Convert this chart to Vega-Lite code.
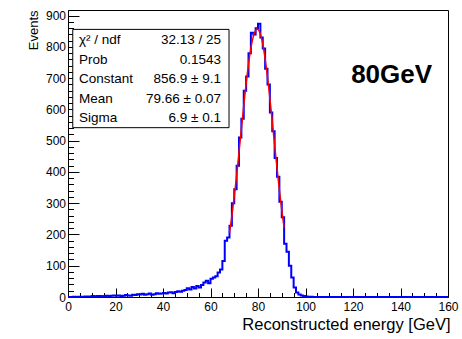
{
  "$schema": "https://vega.github.io/schema/vega-lite/v6.json",
  "width": 380,
  "height": 287,
  "autosize": "none",
  "padding": {"left": 68, "top": 10, "right": 14, "bottom": 42},
  "background": "white",
  "config": {
    "view": {"stroke": "black", "strokeWidth": 1},
    "font": "Liberation Sans",
    "axis": {"grid": false, "tickColor": "black", "domainColor": "black", "labelColor": "black", "titleColor": "black", "labelFont": "Liberation Sans", "titleFont": "Liberation Sans", "titleFontWeight": "normal"}
  },
  "datasets": {
    "hist": [
      {"E":0,"N":0},{"E":1,"N":0},{"E":2,"N":1},{"E":3,"N":0},{"E":4,"N":1},{"E":5,"N":1},{"E":6,"N":1},{"E":7,"N":2},{"E":8,"N":2},{"E":9,"N":2},
      {"E":10,"N":3},{"E":11,"N":2},{"E":12,"N":3},{"E":13,"N":3},{"E":14,"N":2},{"E":15,"N":3},{"E":16,"N":4},{"E":17,"N":3},{"E":18,"N":4},{"E":19,"N":5},
      {"E":20,"N":4},{"E":21,"N":5},{"E":22,"N":3},{"E":23,"N":4},{"E":24,"N":6},{"E":25,"N":5},{"E":26,"N":4},{"E":27,"N":7},{"E":28,"N":6},{"E":29,"N":9},
      {"E":30,"N":8},{"E":31,"N":10},{"E":32,"N":7},{"E":33,"N":9},{"E":34,"N":11},{"E":35,"N":7},{"E":36,"N":9},{"E":37,"N":12},{"E":38,"N":10},{"E":39,"N":11},
      {"E":40,"N":13},{"E":41,"N":11},{"E":42,"N":14},{"E":43,"N":15},{"E":44,"N":12},{"E":45,"N":16},{"E":46,"N":18},{"E":47,"N":17},{"E":48,"N":20},{"E":49,"N":22},
      {"E":50,"N":28},{"E":51,"N":24},{"E":52,"N":32},{"E":53,"N":27},{"E":54,"N":35},{"E":55,"N":30},{"E":56,"N":38},{"E":57,"N":46},{"E":58,"N":52},{"E":59,"N":44},
      {"E":60,"N":58},{"E":61,"N":62},{"E":62,"N":66},{"E":63,"N":78},{"E":64,"N":88},{"E":65,"N":115},{"E":66,"N":180},{"E":67,"N":190},{"E":68,"N":228},{"E":69,"N":300},
      {"E":70,"N":345},{"E":71,"N":420},{"E":72,"N":510},{"E":73,"N":570},{"E":74,"N":660},{"E":75,"N":705},{"E":76,"N":780},{"E":77,"N":845},{"E":78,"N":840},{"E":79,"N":860},
      {"E":80,"N":874},{"E":81,"N":830},{"E":82,"N":795},{"E":83,"N":730},{"E":84,"N":680},{"E":85,"N":590},{"E":86,"N":530},{"E":87,"N":445},{"E":88,"N":385},{"E":89,"N":305},
      {"E":90,"N":255},{"E":91,"N":170},{"E":92,"N":145},{"E":93,"N":100},{"E":94,"N":62},{"E":95,"N":30},{"E":96,"N":14},{"E":97,"N":8},{"E":98,"N":5},{"E":99,"N":3},
      {"E":100,"N":2},{"E":101,"N":1},{"E":102,"N":1},{"E":103,"N":0},{"E":104,"N":0},{"E":105,"N":0},{"E":106,"N":0},{"E":107,"N":0},{"E":108,"N":0},{"E":109,"N":0},
      {"E":110,"N":0},{"E":111,"N":0},{"E":112,"N":0},{"E":113,"N":0},{"E":114,"N":0},{"E":115,"N":0},{"E":116,"N":0},{"E":117,"N":0},{"E":118,"N":0},{"E":119,"N":0},
      {"E":120,"N":0},{"E":121,"N":0},{"E":122,"N":0},{"E":123,"N":0},{"E":124,"N":0},{"E":125,"N":0},{"E":126,"N":0},{"E":127,"N":0},{"E":128,"N":0},{"E":129,"N":0},
      {"E":130,"N":0},{"E":131,"N":0},{"E":132,"N":0},{"E":133,"N":0},{"E":134,"N":0},{"E":135,"N":0},{"E":136,"N":0},{"E":137,"N":0},{"E":138,"N":0},{"E":139,"N":0},
      {"E":140,"N":0},{"E":141,"N":0},{"E":142,"N":0},{"E":143,"N":0},{"E":144,"N":0},{"E":145,"N":0},{"E":146,"N":0},{"E":147,"N":0},{"E":148,"N":0},{"E":149,"N":0},
      {"E":150,"N":0},{"E":151,"N":0},{"E":152,"N":0},{"E":153,"N":0},{"E":154,"N":0},{"E":155,"N":0},{"E":156,"N":0},{"E":157,"N":0},{"E":158,"N":0},{"E":159,"N":0},
      {"E":160,"N":0}
    ],
    "fit": [
      {"E":68,"F":205.5},{"E":68.5,"F":231.7},{"E":69,"F":259.8},{"E":69.5,"F":290},{"E":70,"F":321.6},{"E":70.5,"F":355},
      {"E":71,"F":389.9},{"E":71.5,"F":426},{"E":72,"F":462.8},{"E":72.5,"F":500},{"E":73,"F":537.9},{"E":73.5,"F":575},
      {"E":74,"F":612},{"E":74.5,"F":648},{"E":75,"F":682},{"E":75.5,"F":715},{"E":76,"F":744.6},{"E":76.5,"F":772},
      {"E":77,"F":795.6},{"E":77.5,"F":816},{"E":78,"F":832.6},{"E":78.5,"F":845},{"E":79,"F":853},{"E":79.5,"F":857},
      {"E":80,"F":856},{"E":80.5,"F":851},{"E":81,"F":841},{"E":81.5,"F":827},{"E":82,"F":809},{"E":82.5,"F":787},
      {"E":83,"F":762},{"E":83.5,"F":734},{"E":84,"F":703},{"E":84.5,"F":670},{"E":85,"F":635},{"E":85.5,"F":599},
      {"E":86,"F":562},{"E":86.5,"F":524},{"E":87,"F":487},{"E":87.5,"F":449},{"E":88,"F":413},{"E":88.5,"F":377},
      {"E":89,"F":343},{"E":89.5,"F":310},{"E":90,"F":279},{"E":90.5,"F":249},{"E":91,"F":222}
    ]
  },
  "layer": [
    {
      "data": {"name": "hist"},
      "mark": {"type": "line", "interpolate": "step-after", "color": "#0000ff", "strokeWidth": 2},
      "encoding": {
        "x": {"field": "E", "type": "quantitative", "scale": {"domain": [0, 160], "nice": false, "zero": false},
          "axis": {"orient": "bottom", "values": [0,5,10,15,20,25,30,35,40,45,50,55,60,65,70,75,80,85,90,95,100,105,110,115,120,125,130,135,140,145,150,155,160],
            "tickCount": 500, "format": "d",
            "tickSize": {"condition": {"test": "datum.value % 20 === 0", "value": -9}, "value": -4.5},
            "labelExpr": "datum.value % 20 === 0 ? datum.label : ''",
            "labelOverlap": false, "labelFlush": false, "labelBound": false,
            "labelPadding": 13, "labelFontSize": 12,
            "title": "Reconstructed energy [GeV]", "titleFontSize": 16.5, "titleAnchor": "end", "titleAlign": "right", "titleBaseline": "alphabetic", "titleX": 382, "titleY": 32}},
        "y": {"field": "N", "type": "quantitative", "scale": {"domain": [0, 918], "nice": false},
          "axis": {"orient": "left", "values": [0,20,40,60,80,100,120,140,160,180,200,220,240,260,280,300,320,340,360,380,400,420,440,460,480,500,520,540,560,580,600,620,640,660,680,700,720,740,760,780,800,820,840,860,880,900],
            "tickCount": 500, "format": "d",
            "tickSize": {"condition": {"test": "datum.value % 100 === 0", "value": -11}, "value": -5.5},
            "labelExpr": "datum.value % 100 === 0 ? datum.label : ''",
            "labelOverlap": false, "labelFlush": false, "labelBound": false,
            "labelPadding": 13.5, "labelFontSize": 12,
            "title": "Events", "titleFontSize": 13, "titleAngle": 270, "titleAnchor": "end", "titleAlign": "right", "titleBaseline": "alphabetic", "titleX": -31, "titleY": 0}}
      }
    },
    {
      "data": {"name": "fit"},
      "mark": {"type": "line", "color": "#ff0000", "strokeWidth": 1.5},
      "encoding": {
        "x": {"field": "E", "type": "quantitative"},
        "y": {"field": "F", "type": "quantitative"}
      }
    },
    {
      "data": {"values": [{}]},
      "mark": {"type": "rect", "fill": "white", "stroke": "black", "strokeWidth": 1},
      "encoding": {"x": {"datum": 2.0, "type": "quantitative"}, "x2": {"datum": 67.8}, "y": {"datum": 856, "type": "quantitative"}, "y2": {"datum": 541.6}}
    },
    {
      "data": {"values": [{}]},
      "mark": {"type": "text", "align": "left", "baseline": "alphabetic", "fontSize": 13.5, "lineHeight": 19.5, "color": "black",
        "text": ["χ² / ndf", "Prob", "Constant", "Mean", "Sigma"]},
      "encoding": {"x": {"datum": 4.6, "type": "quantitative"}, "y": {"datum": 808, "type": "quantitative"}}
    },
    {
      "data": {"values": [{}]},
      "mark": {"type": "text", "align": "right", "baseline": "alphabetic", "fontSize": 13.5, "lineHeight": 19.5, "color": "black",
        "text": ["32.13 / 25", "0.1543", "856.9 ± 9.1", "79.66 ± 0.07", "6.9 ± 0.1"]},
      "encoding": {"x": {"datum": 64.4, "type": "quantitative"}, "y": {"datum": 808, "type": "quantitative"}}
    },
    {
      "data": {"values": [{}]},
      "mark": {"type": "text", "align": "right", "baseline": "alphabetic", "fontSize": 26, "fontWeight": "bold", "color": "black", "text": "80GeV"},
      "encoding": {"x": {"datum": 153.3, "type": "quantitative"}, "y": {"datum": 686, "type": "quantitative"}}
    }
  ]
}
